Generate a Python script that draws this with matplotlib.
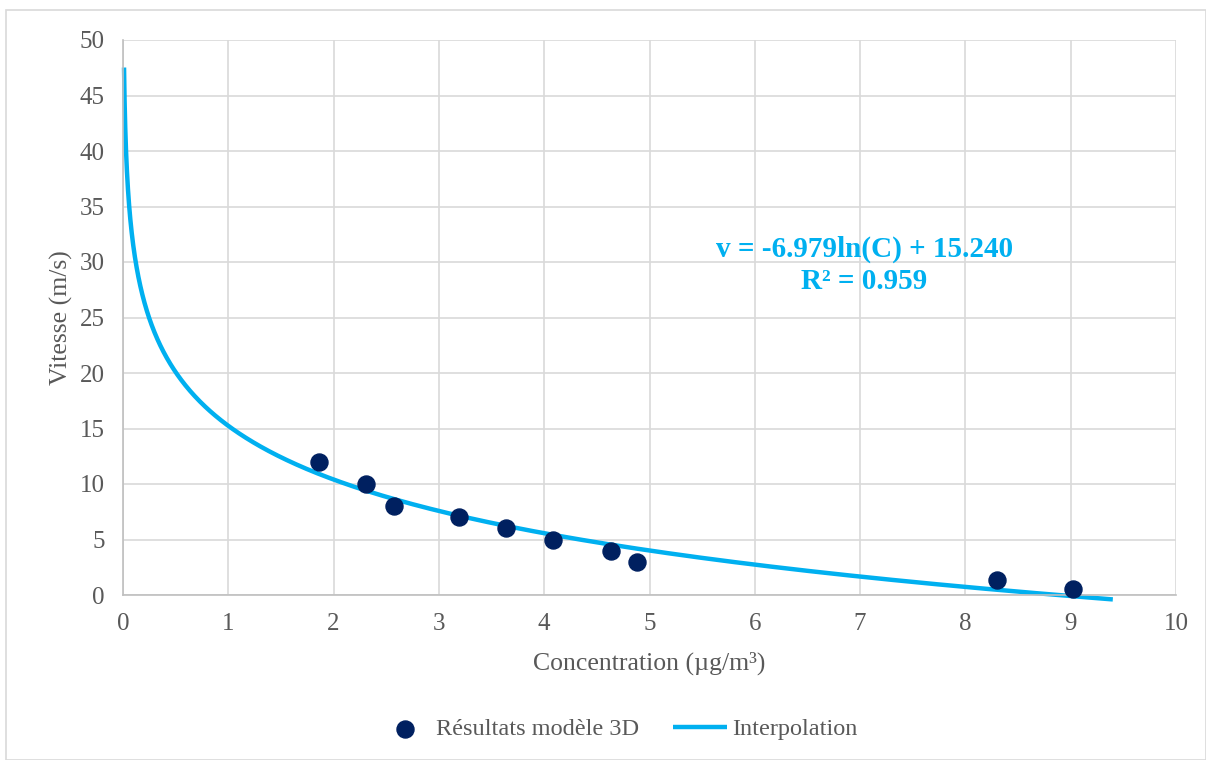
import numpy as np
import matplotlib.pyplot as plt
from matplotlib.patches import Rectangle

# Résultats modèle 3D
concentration = [1.86, 2.31, 2.57, 3.19, 3.64, 4.08, 4.63, 4.88, 8.30, 9.02]
vitesse = [12.0, 10.0, 8.0, 7.0, 6.0, 5.0, 4.0, 3.0, 1.35, 0.5]

# courbe de tendance logarithmique (équation affichée)
coef_a = -6.979
coef_b = 15.240
r2 = 0.959
c_min, c_max = 0.0098, 9.40

x_ticks = list(range(0, 11))
y_ticks = list(range(0, 51, 5))

plt.rcParams["font.family"] = ["Liberation Serif", "DejaVu Serif"]

fig = plt.figure(figsize=(12.06, 7.6), dpi=100)
ax = fig.add_axes([123 / 1206, 1 - 595 / 760, (1176 - 123) / 1206, (595 - 40) / 760])

# cadre extérieur
fig.patches.append(Rectangle((6 / 1206, 0), 1 - 6 / 1206, 1 - 10 / 760,
                             transform=fig.transFigure, fill=False,
                             edgecolor="#D9D9D9", linewidth=1.2))

c = np.geomspace(c_min, c_max, 600)
v = coef_a * np.log(c) + coef_b
ax.plot(c, v, color="#00B0F0", linewidth=3.2, label="Interpolation",
        clip_on=False, zorder=2, solid_capstyle="butt")
ax.scatter(concentration, vitesse, s=150, color="#002060",
           label="Résultats modèle 3D", zorder=3, clip_on=False)

ax.set_xlim(0, 10)
ax.set_ylim(0, 50)
ax.set_xticks(x_ticks)
ax.set_yticks(y_ticks)
ax.grid(True, color="#D9D9D9", linewidth=1.2)
ax.set_axisbelow(True)
for side in ["top", "right"]:
    ax.spines[side].set_visible(False)
for side in ["left", "bottom"]:
    ax.spines[side].set_color("#BFBFBF")
    ax.spines[side].set_linewidth(1.2)
ax.tick_params(length=0, labelsize=18, colors="#595959", pad=13)

ax.set_xlabel("Concentration (µg/m³)", fontsize=18.5, color="#595959", labelpad=12)
ax.set_ylabel("Vitesse (m/s)", fontsize=18.5, color="#595959", labelpad=5)

ax.text(7.04, 29.7, f"v = {coef_a:.3f}ln(C) + {coef_b:.3f}\nR² = {r2:.3f}",
        ha="center", va="center", fontsize=21, fontweight="bold",
        color="#00B0F0", linespacing=1.28)

handles, labels = ax.get_legend_handles_labels()
fig.legend(handles[::-1], labels[::-1], loc="center", bbox_to_anchor=(0.512, 1 - 729 / 760),
           ncol=2, frameon=False, fontsize=17.5, labelcolor="#595959",
           handlelength=2.2, columnspacing=1.4, handletextpad=0.2)

fig.savefig("out.png", dpi=100)
